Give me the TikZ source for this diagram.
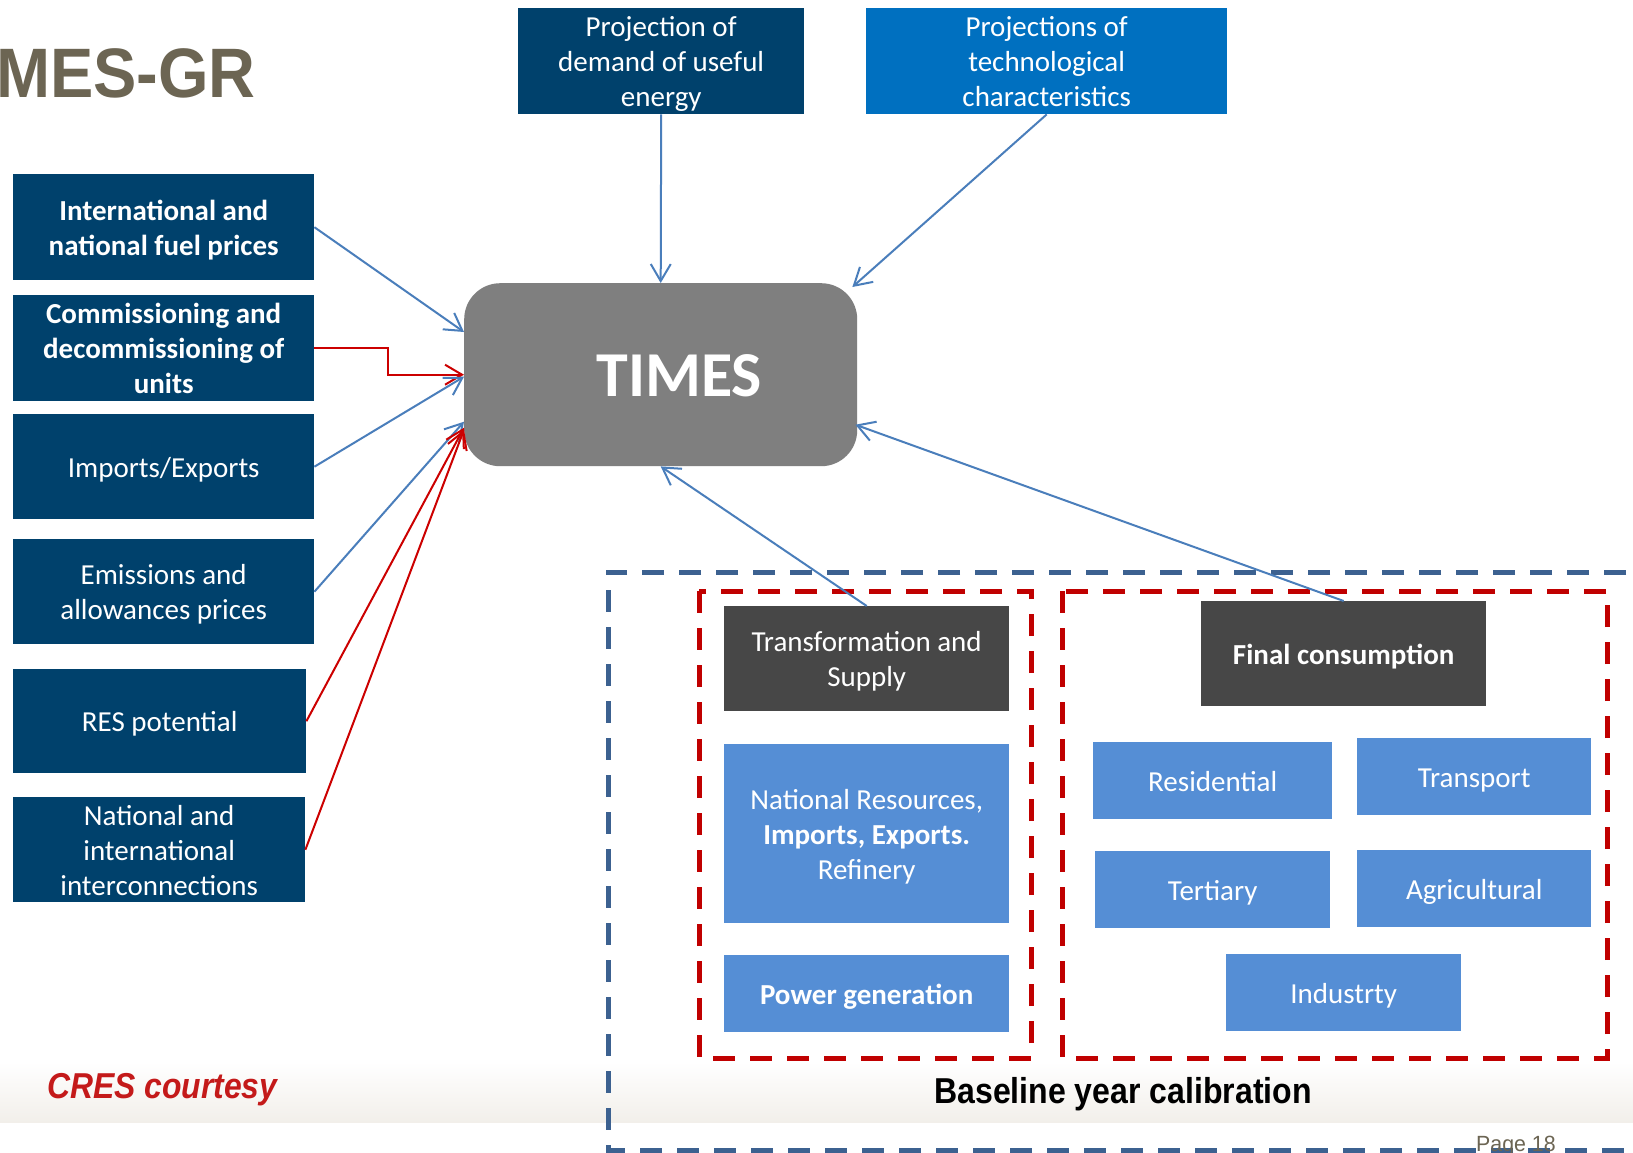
\documentclass[tikz,border=0pt]{standalone}
\usepackage{fontspec}
\setmainfont{Carlito}
\newfontfamily\arialf{Liberation Sans}
\usetikzlibrary{arrows.meta,calc}
\definecolor{navy}{HTML}{00416C}
\definecolor{techblue}{HTML}{0070C0}
\definecolor{lightblue}{HTML}{558ED5}
\definecolor{darkgray}{HTML}{474747}
\definecolor{timesgray}{HTML}{7F7F7F}
\definecolor{arrblue}{HTML}{4A7EBB}
\definecolor{arrred}{HTML}{CC0000}
\definecolor{dashred}{HTML}{C00000}
\definecolor{dashblue}{HTML}{3C6190}
\definecolor{titlegray}{HTML}{6C6553}
\definecolor{crered}{HTML}{C41A1A}
\definecolor{footbg}{HTML}{F2EFEA}
\newcommand\boxstrut{\rule[-7pt]{0pt}{35pt}}
\begin{document}
\begin{tikzpicture}[x=1pt,y=-1pt,
  boxnode/.style={rectangle, inner sep=0pt, anchor=north west, align=center,
    text=white, font=\fontsize{29}{35}\selectfont,
    execute at end node=\boxstrut},
  barrow/.style={draw=arrblue, line width=2pt, -{Straight Barb[length=17pt,width=20pt]}},
  rarrow/.style={draw=arrred, line width=2pt, -{Straight Barb[length=17pt,width=20pt]}},
  reddash/.style={draw=dashred, line width=5pt, dash pattern=on 22pt off 15pt},
  bluedash/.style={draw=dashblue, line width=5pt, dash pattern=on 22pt off 15pt}]
\useasboundingbox (0,0) rectangle (1633,1152);
\clip (0,0) rectangle (1633,1152);
\fill[white] (0,0) rectangle (1633,1152);
% footer band
\shade[top color=white, bottom color=footbg] (0,1062) rectangle (1633,1122);

% dashed frames
\draw[bluedash] (1700,572) -- (608,572) -- (608,1150) -- (1700,1150);
\draw[reddash] (699,591) rectangle (1031,1058);
\draw[reddash] (1062,591) rectangle (1607,1058);

% title
\node[anchor=base west, inner sep=0pt, text=titlegray, xscale=0.927,
  font=\arialf\bfseries\fontsize{70}{80}\selectfont] (title) at (-4,97) {MES-GR};

% top boxes
\node[boxnode, fill=navy, minimum width=286pt, minimum height=106pt] (demand) at (518,8)
  {\boxstrut Projection of\\demand of useful\\energy};
\node[boxnode, fill=techblue, minimum width=361pt, minimum height=106pt] (tech) at (866,8)
  {\boxstrut Projections of\\technological\\characteristics};

% left boxes
\node[boxnode, fill=navy, minimum width=301pt, minimum height=106pt, font=\fontsize{29}{35}\selectfont\bfseries] (b1) at (13,174)
  {\boxstrut International and\\national fuel prices};
\node[boxnode, fill=navy, minimum width=301pt, minimum height=106pt, font=\fontsize{29}{35}\selectfont\bfseries] (b2) at (13,295)
  {\boxstrut Commissioning and\\decommissioning of\\units};
\node[boxnode, fill=navy, minimum width=301pt, minimum height=105pt] (b3) at (13,414)
  {\boxstrut Imports/Exports};
\node[boxnode, fill=navy, minimum width=301pt, minimum height=105pt] (b4) at (13,539)
  {\boxstrut Emissions and\\allowances prices};
\node[boxnode, fill=navy, minimum width=293pt, minimum height=104pt] (b5) at (13,669)
  {\boxstrut RES potential};
\node[boxnode, fill=navy, minimum width=292pt, minimum height=105pt] (b6) at (13,797)
  {\boxstrut National and\\international\\interconnections};

% TIMES
\node[rectangle, rounded corners=36pt, fill=timesgray, inner sep=0pt, anchor=north west,
  minimum width=393pt, minimum height=183pt, text=white,
  font=\fontsize{64}{70}\selectfont\bfseries] (times) at (464,283) {\hspace*{37pt}\rule{0pt}{45pt}TIMES};

% baseline boxes
\node[boxnode, fill=darkgray, minimum width=285pt, minimum height=105pt] (trans) at (724,606)
  {\boxstrut Transformation and\\Supply};
\node[boxnode, fill=lightblue, minimum width=285pt, minimum height=179pt] (natres) at (724,744)
  {\boxstrut National Resources,\\\textbf{Imports, Exports.}\\Refinery};
\node[boxnode, fill=lightblue, minimum width=285pt, minimum height=77pt, font=\fontsize{29}{35}\selectfont\bfseries] (power) at (724,955)
  {\boxstrut Power generation};
\node[boxnode, fill=darkgray, minimum width=285pt, minimum height=105pt, font=\fontsize{29}{35}\selectfont\bfseries] (final) at (1201,601)
  {\boxstrut Final consumption};
\node[boxnode, fill=lightblue, minimum width=239pt, minimum height=77pt] (resid) at (1093,742) {\boxstrut Residential};
\node[boxnode, fill=lightblue, minimum width=234pt, minimum height=77pt] (transp) at (1357,738) {\boxstrut Transport};
\node[boxnode, fill=lightblue, minimum width=235pt, minimum height=77pt] (tert) at (1095,851) {\boxstrut Tertiary};
\node[boxnode, fill=lightblue, minimum width=234pt, minimum height=77pt] (agri) at (1357,850) {\boxstrut Agricultural};
\node[boxnode, fill=lightblue, minimum width=235pt, minimum height=77pt] (indus) at (1226,954) {\boxstrut Industrty};

% connectors
\draw[barrow] (demand.south) -- (times.north);
\draw[barrow] (tech.south) -- ($(times.north east)+(-5,4)$);
\draw[barrow] (b1.east) -- ($(times.north west)+(0,49)$);
\draw[rarrow] (b2.east) -- ++(74,0) |- (times.west);
\draw[barrow] (b3.east) -- ($(times.west)+(0,2)$);
\draw[barrow] (b4.east) -- ($(times.west)+(0,47)$);
\draw[rarrow] (b5.east) -- ($(times.west)+(0,53)$);
\draw[rarrow] (b6.east) -- ($(times.west)+(0,55)$);
\draw[barrow] (trans.north) -- (times.south);
\draw[barrow] (final.north) -- ($(times.east)+(-2,50)$);

% bottom texts
\node[anchor=base west, inner sep=0pt, text=crered, xscale=0.885,
  font=\arialf\bfseries\itshape\fontsize{36}{40}\selectfont] (cres) at (47,1098) {CRES courtesy};
\node[anchor=base, inner sep=0pt, text=black, xscale=0.89,
  font=\arialf\bfseries\fontsize{36}{40}\selectfont] (calib) at (1123,1103) {Baseline year calibration};
\node[anchor=base west, inner sep=0pt, text=titlegray, xscale=0.97,
  font=\arialf\fontsize{22}{26}\selectfont] (page) at (1476,1151) {Page 18};
\end{tikzpicture}
\end{document}
